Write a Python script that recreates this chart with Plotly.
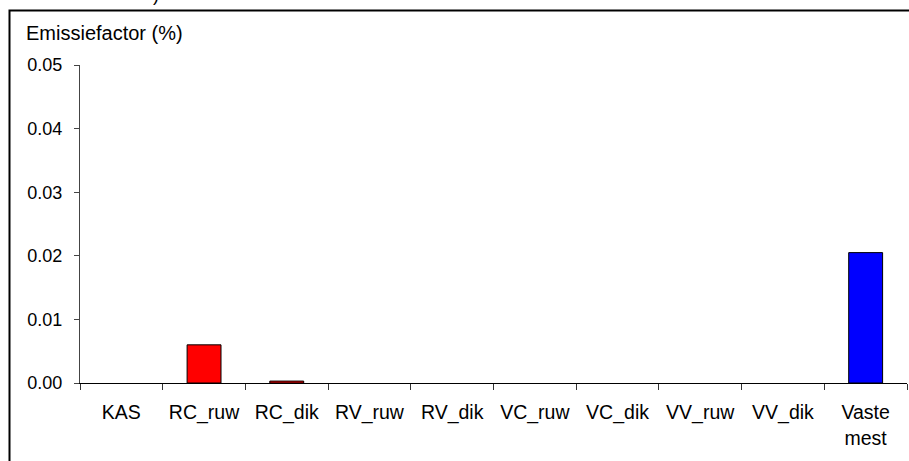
import plotly.graph_objects as go

categories = ["KAS", "RC_ruw", "RC_dik", "RV_ruw", "RV_dik", "VC_ruw", "VC_dik", "VV_ruw", "VV_dik", "Vaste<br>mest"]
values = [0.0, 0.0060, 0.0003, 0.0, 0.0, 0.0, 0.0, 0.0, 0.0, 0.0205]
bar_colors = ["#FF0000", "#FF0000", "#FF0000", "#FF0000", "#FF0000", "#FF0000", "#FF0000", "#FF0000", "#FF0000", "#0000FF"]
y_ticks = [0.00, 0.01, 0.02, 0.03, 0.04, 0.05]

FONT = "Liberation Sans, Arial, sans-serif"

# no outline for empty (zero) bars
outline_widths = [1 if v > 0 else 0 for v in values]

fig = go.Figure()
fig.add_trace(go.Bar(
    x=categories, y=values,
    marker=dict(color=bar_colors, line=dict(color="black", width=outline_widths)),
    width=0.41,
))

L, R, T, B = 80, 2, 65, 78
W, H = 909, 461
pw, ph = W - L - R, H - T - B

def px_x(x):
    return (x - L) / pw

def px_y(y):
    return 1 + (T - y) / ph

fig.update_layout(
    width=W, height=H,
    margin=dict(l=L, r=R, t=T, b=B, pad=0),
    paper_bgcolor="white", plot_bgcolor="white",
    showlegend=False,
    font=dict(family=FONT, size=18, color="black"),
    xaxis=dict(
        showline=True, linecolor="black", linewidth=1,
        ticks="outside", ticklen=6, tickcolor="#333", tickson="boundaries",
        showgrid=False, zeroline=False,
        tickfont=dict(size=19.5),
        ticklabelstandoff=12,
    ),
    yaxis=dict(
        range=[0, 0.05], tickvals=y_ticks, tickformat=".2f",
        showline=True, linecolor="#444", linewidth=1,
        ticks="outside", ticklen=5, tickcolor="#444",
        showgrid=False, zeroline=False,
        tickfont=dict(size=18),
        ticklabelstandoff=8,
    ),
    shapes=[
        dict(type="rect", xref="paper", yref="paper",
             x0=px_x(9.5), x1=px_x(1200), y0=px_y(10.5), y1=px_y(800),
             line=dict(color="black", width=2), fillcolor="rgba(0,0,0,0)", layer="above"),
    ],
    annotations=[
        dict(text="Emissiefactor (%)", xref="paper", yref="paper",
             x=px_x(24), y=px_y(33), xanchor="left", yanchor="middle",
             showarrow=False, font=dict(size=20, family=FONT)),
        dict(text=")", xref="paper", yref="paper",
             x=px_x(156), y=px_y(-5), xanchor="center", yanchor="middle",
             showarrow=False, font=dict(size=18, family=FONT)),
    ],
)

fig.write_html("out.html")
